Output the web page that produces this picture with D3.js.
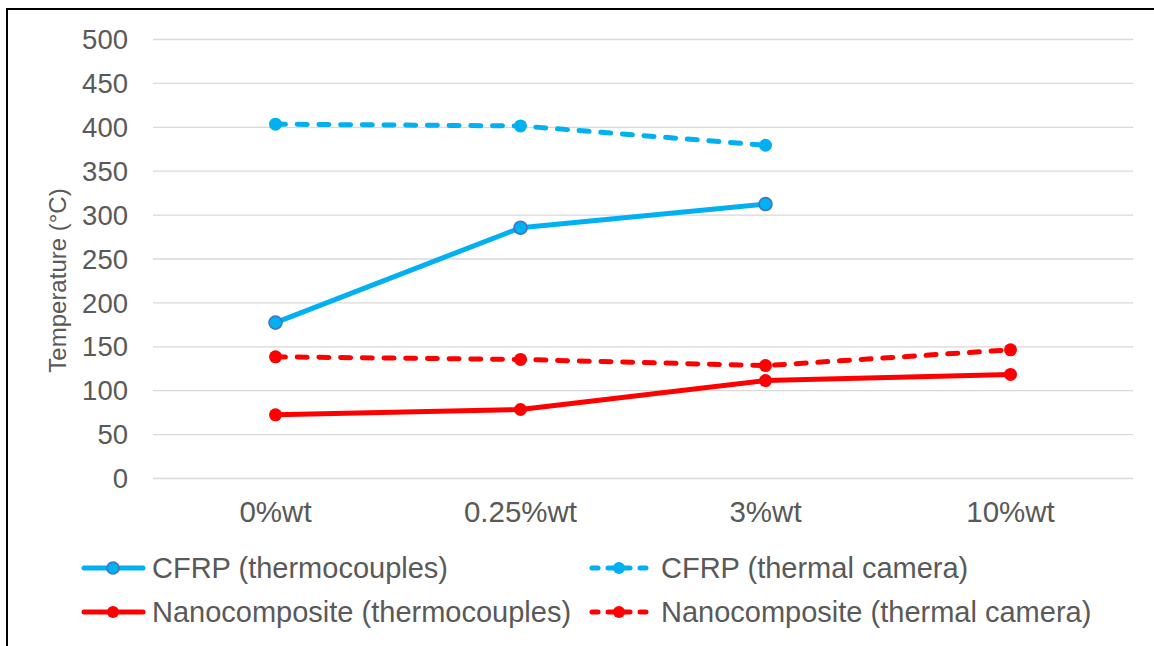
<!DOCTYPE html>
<html>
<head>
<meta charset="utf-8">
<script src="https://cdn.jsdelivr.net/npm/d3@7"></script>
<style>
  html, body { margin: 0; padding: 0; background: #fff; }
  svg { display: block; font-family: "Liberation Sans", Arial, sans-serif; }
</style>
</head>
<body>
<svg id="chart" width="1154" height="646"></svg>
<script>
// Peak temperature by filler content
const categories = ["0%wt", "0.25%wt", "3%wt", "10%wt"];
const cfrpThermocouples = [177, 285, 312, null];
const cfrpCamera = [403, 401, 379, null];
const nanoThermocouples = [72, 78, 111, 118];
const nanoCamera = [138, 135, 128, 146];
const yTicks = [0, 50, 100, 150, 200, 250, 300, 350, 400, 450, 500];
const seriesNames = [
  "CFRP (thermocouples)",
  "CFRP (thermal camera)",
  "Nanocomposite (thermocouples)",
  "Nanocomposite (thermal camera)"
];

const BLUE = "#00B0F0", RED = "#FF0000";
const series = [
  { name: seriesNames[0], values: cfrpThermocouples, color: BLUE, dashed: false, markerStroke: "#4472C4" },
  { name: seriesNames[1], values: cfrpCamera, color: BLUE, dashed: true, markerStroke: null },
  { name: seriesNames[2], values: nanoThermocouples, color: RED, dashed: false, markerStroke: null },
  { name: seriesNames[3], values: nanoCamera, color: RED, dashed: true, markerStroke: null }
];

const svg = d3.select("#chart");
const plot = { left: 153, right: 1133, top: 39, bottom: 478 };

// outer frame (open on right and bottom edges)
svg.append("rect")
  .attr("x", 7).attr("y", 9)
  .attr("width", 1300).attr("height", 800)
  .attr("fill", "none").attr("stroke", "#000").attr("stroke-width", 2);

const x = d3.scaleBand().domain(categories).range([plot.left, plot.right]);
const y = d3.scaleLinear().domain([0, 500]).range([plot.bottom, plot.top]);

// horizontal gridlines + value labels
const yAxis = d3.axisLeft(y).tickValues(yTicks).tickSize(-(plot.right - plot.left)).tickPadding(25);
const gy = svg.append("g").attr("transform", `translate(${plot.left},0)`).call(yAxis);
gy.select(".domain").remove();
gy.selectAll(".tick line").attr("stroke", "#D9D9D9").attr("stroke-width", 1.3);
gy.selectAll(".tick text")
  .attr("fill", "#595959").attr("font-size", 27.5).attr("dy", "0.35em")
  .attr("font-family", "'Liberation Sans', Arial, sans-serif");

// category labels
const xAxis = d3.axisBottom(x).tickSize(0).tickPadding(23);
const gx = svg.append("g").attr("transform", `translate(0,${plot.bottom})`).call(xAxis);
gx.select(".domain").remove();
gx.selectAll(".tick text")
  .attr("fill", "#595959").attr("font-size", 29.5)
  .attr("font-family", "'Liberation Sans', Arial, sans-serif");

// y-axis title
svg.append("text")
  .attr("transform", `translate(58,${(plot.top + plot.bottom) / 2 + 22}) rotate(-90)`)
  .attr("text-anchor", "middle")
  .attr("dy", "0.35em")
  .attr("fill", "#595959").attr("font-size", 24)
  .text("Temperature (°C)");

const cx = c => x(c) + x.bandwidth() / 2;
const line = d3.line()
  .defined(d => d.v !== null)
  .x(d => cx(d.c))
  .y(d => y(d.v));

const lw = 5;
const dash = "10,11.7";

series.forEach(s => {
  const pts = categories.map((c, i) => ({ c, v: s.values[i] }));
  svg.append("path")
    .datum(pts)
    .attr("d", line)
    .attr("fill", "none")
    .attr("stroke", s.color)
    .attr("stroke-width", lw)
    .attr("stroke-linecap", "round")
    .attr("stroke-linejoin", "round")
    .attr("stroke-dasharray", s.dashed ? dash : null);
  svg.append("g").selectAll("circle")
    .data(pts.filter(d => d.v !== null))
    .join("circle")
    .attr("cx", d => cx(d.c))
    .attr("cy", d => y(d.v))
    .attr("r", 6.5)
    .attr("fill", s.color)
    .attr("stroke", s.markerStroke || "none")
    .attr("stroke-width", s.markerStroke ? 1.6 : 0);
});

// legend: two columns, two rows
const legendPos = [
  { x: 82, y: 568 }, { x: 588, y: 568 },
  { x: 82, y: 612 }, { x: 588, y: 612 }
];
series.forEach((s, i) => {
  const p = legendPos[i];
  const g = svg.append("g").attr("transform", `translate(${p.x},${p.y})`);
  g.append("line")
    .attr("x1", 2).attr("x2", 61).attr("y1", 0).attr("y2", 0)
    .attr("stroke", s.color).attr("stroke-width", lw)
    .attr("stroke-linecap", "round")
    .attr("stroke-dasharray", s.dashed ? "6,10" : null)
    .attr("stroke-dashoffset", s.dashed ? -2 : null);
  g.append("circle")
    .attr("cx", 31).attr("cy", 0).attr("r", 6)
    .attr("fill", s.color)
    .attr("stroke", s.markerStroke || "none")
    .attr("stroke-width", s.markerStroke ? 1.6 : 0);
  g.append("text")
    .attr("x", s.dashed ? 73 : 70).attr("y", 0).attr("dy", "0.35em")
    .attr("fill", "#595959").attr("font-size", 29)
    .text(s.name);
});
</script>
</body>
</html>
